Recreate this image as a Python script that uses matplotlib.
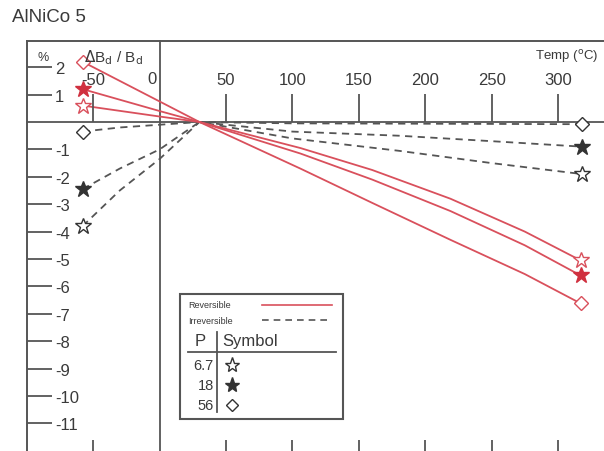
import matplotlib
matplotlib.use('Agg')
import matplotlib.pyplot as plt
from matplotlib.lines import Line2D
from matplotlib.patches import Rectangle

plt.rcParams['font.family'] = ['Liberation Sans', 'DejaVu Sans']
plt.rcParams['axes.unicode_minus'] = False

# temperatures (deg C) and % change of Bd
temp_rev = [-58, 0, 30, 106, 160, 219, 275, 317]
rev_67 = [0.6, 0.2, 0.0, -0.95, -1.75, -2.8, -4.0, -5.05]
rev_18 = [1.2, 0.4, 0.0, -1.15, -2.1, -3.25, -4.5, -5.6]
rev_56 = [2.2, 0.75, 0.0, -1.7, -2.95, -4.3, -5.55, -6.62]

temp_irr = [-58, -30, 0, 30, 100, 180, 250, 318]
irr_67 = [-3.8, -2.5, -1.35, 0.0, -0.6, -1.05, -1.5, -1.9]
irr_18 = [-2.45, -1.7, -1.0, 0.0, -0.35, -0.5, -0.7, -0.9]
irr_56 = [-0.35, -0.2, -0.1, 0.0, -0.05, -0.06, -0.07, -0.08]

temp_ticks = [-50, 50, 100, 150, 200, 250, 300]
pct_ticks = [2, 1, -1, -2, -3, -4, -5, -6, -7, -8, -9, -10, -11]
legend_p = ['6.7', '18', '56']

RED = '#d9505c'
RED_DARK = '#d0303f'
GRAY = '#555555'
AX = '#555555'
TXT = '#3a3a3a'

W, H = 604, 452
fig = plt.figure(figsize=(W / 100, H / 100), dpi=100)


def fx(x):
    return x / W


def fy(y):
    return 1 - y / H


pos = [fx(27), fy(455), fx(612) - fx(27), fy(42) - fy(455)]
xlim = ((27 - 159.6) / 1.328, (612 - 159.6) / 1.328)
ylim = ((123 - 455) / 27.4, (123 - 42) / 27.4)

# outer frame
ax = fig.add_axes(pos)
ax.set_xlim(xlim)
ax.set_ylim(ylim)
for s in ax.spines.values():
    s.set_color(AX)
    s.set_linewidth(1.4)
ax.set_yticks(pct_ticks)
ax.set_yticklabels([str(v) for v in pct_ticks])
ax.tick_params(axis='y', left=True, direction='in', length=18,
               width=1.3, color=AX, labelsize=12, labelcolor=TXT, pad=-20)
for lab in ax.get_yticklabels():
    lab.set_horizontalalignment('left')
# short ticks on the right side
axr = ax.secondary_yaxis('right')
axr.set_yticks(pct_ticks)
axr.set_yticklabels([])
axr.tick_params(direction='in', length=5, width=1.3, color=AX)
axr.spines['right'].set_visible(False)

# inner cross axes at T=0 and 0 %
ax2 = fig.add_axes(pos)
ax2.set_xlim(xlim)
ax2.set_ylim(ylim)
ax2.patch.set_alpha(0)
ax2.spines['right'].set_visible(False)
ax2.spines['bottom'].set_visible(False)
ax2.spines['top'].set_position(('data', 0))
ax2.spines['left'].set_position(('data', 0))
for s in ('top', 'left'):
    ax2.spines[s].set_color(AX)
    ax2.spines[s].set_linewidth(1.3)
ax2.xaxis.set_ticks_position('top')
ax2.set_xticks(temp_ticks)
ax2.set_xticklabels([str(t) for t in temp_ticks])
ax2.tick_params(axis='x', direction='out', length=20, width=1.3, color=AX,
                labelsize=12, labelcolor=TXT, pad=5)
ax2.tick_params(axis='y', left=False, labelleft=False)
ax2.xaxis.set_zorder(5)

# bottom ticks on the outer frame
ax.set_xticks(temp_ticks)
ax.tick_params(axis='x', bottom=True, labelbottom=False, direction='in',
               length=10, width=1.3, color=AX)

# reversible curves
ends = [0, len(temp_rev) - 1]
ax2.plot(temp_rev, rev_67, color=RED, lw=1.3, marker='*', ms=12, mfc='white',
         mec=RED, mew=1.0, markevery=ends, zorder=4)
ax2.plot(temp_rev, rev_18, color=RED, lw=1.3, marker='*', ms=12, mfc=RED_DARK,
         mec=RED_DARK, markevery=ends, zorder=4)
ax2.plot(temp_rev, rev_56, color=RED, lw=1.3, marker='D', ms=7, mfc='white',
         mec=RED, mew=1.0, markevery=ends, zorder=4)

# irreversible curves
ends = [0, len(temp_irr) - 1]
ax2.plot(temp_irr, irr_67, color=GRAY, lw=1.3, ls=(0, (4, 3)), marker='*', ms=12,
         mfc='white', mec='#333333', mew=1.0, markevery=ends, zorder=3)
ax2.plot(temp_irr, irr_18, color=GRAY, lw=1.3, ls=(0, (4, 3)), marker='*', ms=12,
         mfc='#333333', mec='#333333', markevery=ends, zorder=3)
ax2.plot(temp_irr, irr_56, color=GRAY, lw=1.3, ls=(0, (4, 3)), marker='D', ms=7,
         mfc='white', mec='#333333', mew=1.0, markevery=ends, zorder=3)

# labels
fig.text(fx(12), fy(18), 'AlNiCo 5', fontsize=13.5, color=TXT, va='center')
fig.text(fx(37), fy(58), '%', fontsize=9, color=TXT, va='center')
fig.text(fx(84), fy(58), r'$\Delta$B$_\mathrm{d}$ / B$_\mathrm{d}$', fontsize=11,
         color=TXT, va='center')
fig.text(fx(152), fy(80), '0', fontsize=12, color=TXT, va='center', ha='center')
fig.text(fx(598), fy(57), r'Temp ($^\mathrm{o}$C)', fontsize=9.5, color=TXT,
         va='center', ha='right')

# legend table
fig.patches.append(Rectangle((fx(180), fy(420)), fx(343) - fx(180), fy(295) - fy(420),
                             transform=fig.transFigure, fill=False, ec=AX, lw=1.5))
fig.text(fx(188), fy(306), 'Reversible', fontsize=6.5, color=TXT, va='center')
fig.text(fx(188), fy(321), 'Irreversible', fontsize=6.5, color=TXT, va='center')
fig.lines.append(Line2D([fx(262), fx(332)], [fy(306), fy(306)], transform=fig.transFigure,
                        color=RED, lw=1.2))
fig.lines.append(Line2D([fx(262), fx(332)], [fy(321), fy(321)], transform=fig.transFigure,
                        color=GRAY, lw=1.2, ls=(0, (4, 3))))
fig.text(fx(200), fy(342), 'P', fontsize=12, color=TXT, va='center', ha='center')
fig.text(fx(222), fy(342), 'Symbol', fontsize=12, color=TXT, va='center')
fig.lines.append(Line2D([fx(188), fx(336)], [fy(353), fy(353)], transform=fig.transFigure,
                        color=AX, lw=1.3))
fig.lines.append(Line2D([fx(217), fx(217)], [fy(333), fy(413)], transform=fig.transFigure,
                        color=AX, lw=1.3))
legend_markers = [dict(marker='*', ms=11, mfc='white', mec='#333333'),
                  dict(marker='*', ms=11, mfc='#333333', mec='#333333'),
                  dict(marker='D', ms=6, mfc='white', mec='#333333')]
for i, (p, mk) in enumerate(zip(legend_p, legend_markers)):
    yy = 366 + 20 * i
    fig.text(fx(214), fy(yy), p, fontsize=10.5, color=TXT, va='center', ha='right')
    fig.lines.append(Line2D([fx(232)], [fy(yy)], transform=fig.transFigure, ls='none',
                            mew=1.0, **mk))

fig.savefig('out.png', dpi=100)
